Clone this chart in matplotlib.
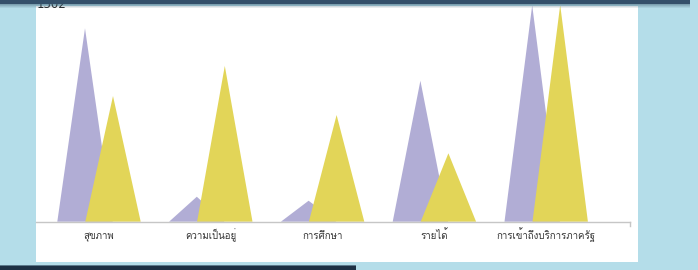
import matplotlib
matplotlib.use("Agg")
import matplotlib.pyplot as plt
from matplotlib import font_manager
from matplotlib.patches import Polygon, Rectangle

# ---------------- data ----------------
categories = ["สุขภาพ", "ความเป็นอยู่", "การศึกษา", "รายได้", "การเข้าถึงบริการภาครัฐ"]
series_a = [1162, 150, 126, 847, 1300]   # purple
series_b = [755, 936, 641, 411, 1302]    # yellow
top_label = "1302"

color_a = "#b1add5"
color_b = "#e2d558"

# ---------------- font with Thai glyphs ----------------
def find_thai_font():
    try:
        from fontTools.ttLib import TTFont
    except Exception:
        return None
    best = None
    for f in font_manager.fontManager.ttflist:
        try:
            tt = TTFont(f.fname, fontNumber=0, lazy=True)
            cmap = tt.getBestCmap()
            if cmap and 0x0E2A in cmap and 0x0E38 in cmap:
                if f.style == "normal" and f.weight in (400, "normal", "regular"):
                    return f.name
                if best is None:
                    best = f.name
        except Exception:
            continue
    return best

thai = find_thai_font()
fam = [thai, "DejaVu Sans"] if thai else ["DejaVu Sans"]
plt.rcParams["font.family"] = fam

W, H = 698, 270
fig = plt.figure(figsize=(W / 100, H / 100), dpi=100)
fig.patch.set_facecolor("#b4dde9")

# background decoration layer in pixel coordinates
bg = fig.add_axes([0, 0, 1, 1])
bg.set_xlim(0, W)
bg.set_ylim(H, 0)
bg.axis("off")
bg.set_zorder(0)
bg.add_patch(Rectangle((36, 6), 602, 256, facecolor="white", edgecolor="none"))

# chart axes over the white panel
pl, pr, pt, pb = 36, 638, 6, 262
ax = fig.add_axes([pl / W, (H - pb) / H, (pr - pl) / W, (pb - pt) / H])
ax.set_zorder(1)
ax.patch.set_alpha(0)
for s in ax.spines.values():
    s.set_visible(False)

c0, step = 99.0, 111.8
ax.set_xlim((pl - c0) / step, (pr - c0) / step)
base_px, top_px, top_val = 221.7, 5.0, 1302.0
k = top_val / (base_px - top_px)
ax.set_ylim(-(pb - base_px) * k, (base_px - pt) * k)

off = 14 / step
hw = 27.7 / step
for i, (va, vb) in enumerate(zip(series_a, series_b)):
    xa = i - off
    xb = i + off
    ax.add_patch(Polygon([(xa - hw, 0), (xa, va), (xa + hw, 0)], closed=True,
                         facecolor=color_a, edgecolor="none", zorder=2))
    ax.add_patch(Polygon([(xb - hw, 0), (xb, vb), (xb + hw, 0)], closed=True,
                         facecolor=color_b, edgecolor="none", zorder=3))

# axis line at zero and end tick
xend = (629.7 - c0) / step
xl = ax.get_xlim()[0]
sp = ax.spines["bottom"]
sp.set_visible(True)
sp.set_position(("data", 0))
sp.set_bounds(xl, xend)
sp.set_color("#c6c6c6")
sp.set_linewidth(1.0)
sp.set_zorder(4)
ax.plot([xend, xend], [0, -4 * k], color="#c6c6c6", lw=1.0, zorder=4)

ax.set_xticks(range(len(categories)))
ax.set_xticklabels(categories, fontsize=7, color="#333333")
ax.tick_params(axis="x", length=0, pad=12.5)
for lbl in ax.get_xticklabels():
    lbl.set_verticalalignment("baseline")
ax.set_yticks([])

# top label, partly hidden by the header bar
bg.text(37, 4.5, top_label, fontsize=8.5, color="#222222", ha="left", va="center",
        family=["DejaVu Sans"], zorder=2)

# header bar with shadow
top = fig.add_axes([0, 0, 1, 1])
top.set_xlim(0, W)
top.set_ylim(H, 0)
top.axis("off")
top.set_zorder(5)
top.patch.set_alpha(0)
top.add_patch(Rectangle((0, 0), 690, 3.5, facecolor="#34506a", edgecolor="none"))
for j, a in enumerate([0.55, 0.4, 0.25, 0.12]):
    top.add_patch(Rectangle((0, 3.5 + j * 1.2), 690, 1.2, facecolor="#4d6d80",
                            edgecolor="none", alpha=a))
# bottom-left dark element
top.add_patch(Rectangle((0, 266), 356, 4, facecolor="#1d3044", edgecolor="none"))
top.add_patch(Rectangle((0, 265), 356, 1, facecolor="#5c7a8c", edgecolor="none"))

fig.savefig("out.png", dpi=100, facecolor=fig.get_facecolor())
